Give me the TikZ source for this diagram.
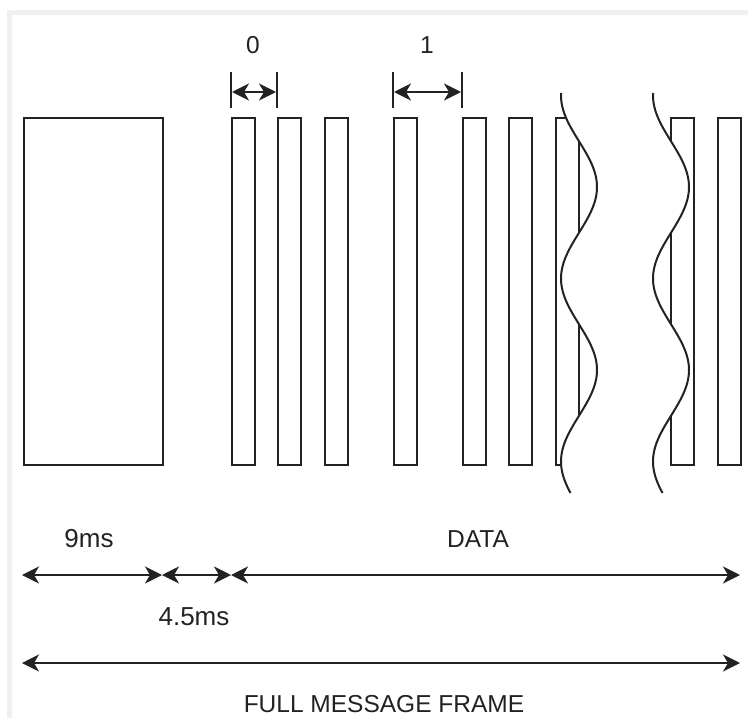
\documentclass[tikz,border=0pt]{standalone}
\usepackage{fontspec}
\setmainfont{Liberation Sans}
\usetikzlibrary{arrows.meta}
\definecolor{ink}{HTML}{222222}
\definecolor{frame}{HTML}{F0F0F0}
\tikzset{
  bar/.style={draw=ink, line width=2pt, rectangle, inner sep=0pt, minimum width=23pt, minimum height=347pt, anchor=north west},
  tip/.tip={Stealth[length=17pt,width=17pt,inset=5pt]},
  dimline/.style={draw=ink, line width=2.2pt, tip-tip},
  tick/.style={draw=ink, line width=2pt},
  wave/.style={draw=ink, line width=2pt},
  lbl/.style={text=ink, font=\fontsize{24.5}{28}\selectfont, inner sep=0pt},
  mslbl/.style={lbl, font=\fontsize{26}{30}\selectfont}
}
\begin{document}
\begin{tikzpicture}[x=1pt,y=-1pt]
\useasboundingbox (0,0) rectangle (748,718);
% faint frame
\draw[frame, line width=5pt] (9.5,718) -- (9.5,12.5) -- (748,12.5);
% header block
\node[bar, minimum width=139pt] (hdr) at (23,117) {};
% bars
\node[bar] (b1) at (231,117) {};
\node[bar] (b2) at (277,117) {};
\node[bar] (b3) at (324,117) {};
\node[bar] (b4) at (393,117) {};
\node[bar] (b5) at (462,117) {};
\node[bar] (b6) at (508,117) {};
\begin{scope}
\clip plot[domain=93:493, samples=120, smooth] ({579+18*cos(1.96721*(\x-187))}, \x) -- (500,493) -- (500,93) -- cycle;
\node[bar] (b7) at (555,117) {};
\end{scope}
\begin{scope}
\clip plot[domain=93:493, samples=120, smooth] ({671+18*cos(1.96721*(\x-187))}, \x) -- (760,493) -- (760,93) -- cycle;
\node[bar] (b8) at (670,117) {};
\end{scope}
\node[bar] (b9) at (717,117) {};
% waves
\draw[wave] plot[domain=93:493, samples=120, smooth] ({579+18*cos(1.96721*(\x-187))}, \x);
\draw[wave] plot[domain=93:493, samples=120, smooth] ({671+18*cos(1.96721*(\x-187))}, \x);
% top dimensions
\coordinate (t1a) at (231,72); \coordinate (t1b) at (231,108);
\coordinate (t2a) at (277,72); \coordinate (t2b) at (277,108);
\coordinate (t4a) at (393,72); \coordinate (t4b) at (393,108);
\coordinate (t5a) at (462,72); \coordinate (t5b) at (462,108);
\draw[tick] (t1a) -- (t1b);
\draw[tick] (t2a) -- (t2b);
\draw[tick] (t4a) -- (t4b);
\draw[tick] (t5a) -- (t5b);
\coordinate (z1) at (232,92); \coordinate (z2) at (276,92);
\coordinate (o1) at (394,92); \coordinate (o2) at (461,92);
\draw[dimline] (z1) -- (z2);
\draw[dimline] (o1) -- (o2);
\node[lbl] (l0) at (253,45) {0};
\node[lbl] (l1) at (427,45) {1};
% bottom dimensions
\coordinate (p0) at (22,575);
\coordinate (p1) at (162,575);
\coordinate (p2) at (231,575);
\coordinate (p3) at (740,575);
\draw[dimline] (p0) -- (p1);
\draw[dimline] (p1) -- (p2);
\draw[dimline] (p2) -- (p3);
\coordinate (f0) at (22,663);
\coordinate (f1) at (740,663);
\draw[dimline] (f0) -- (f1);
\node[mslbl] (l9) at (89,539) {9ms};
\node[lbl] (ld) at (478,539) {DATA};
\node[mslbl] (l45) at (194,617) {4.5ms};
\node[lbl] (lf) at (384,704) {FULL MESSAGE FRAME};
\end{tikzpicture}
\end{document}
